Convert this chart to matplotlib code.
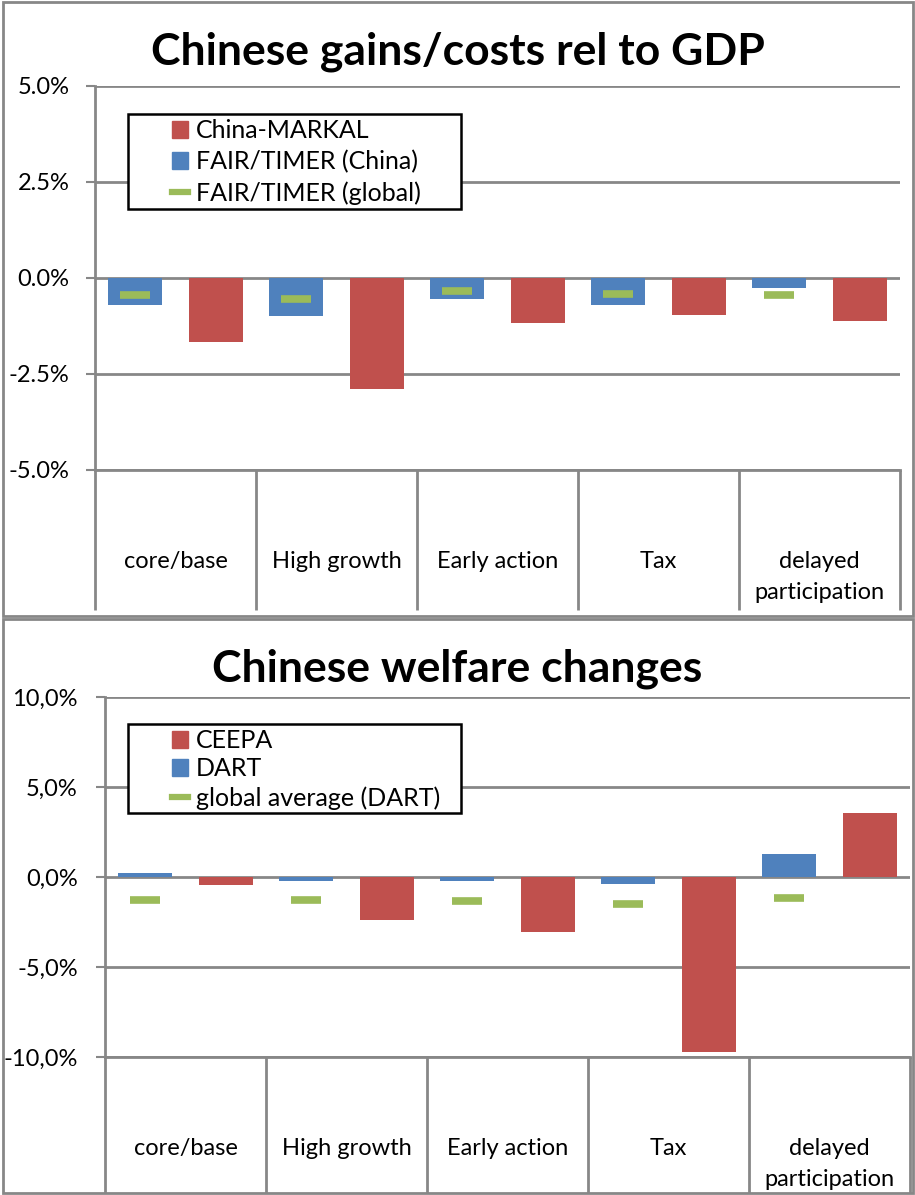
import matplotlib.pyplot as plt
from matplotlib.patches import Rectangle, Patch
from matplotlib.lines import Line2D
import numpy as np

plt.rcParams["font.family"] = ["Lato", "DejaVu Sans"]

# --- data ---
categories = ["core/base", "High growth", "Early action", "Tax", "delayed\nparticipation"]

# top panel: gains/costs relative to GDP (%)
markal = [-1.66, -2.88, -1.16, -0.97, -1.12]
fair_china = [-0.70, -1.00, -0.55, -0.71, -0.26]
fair_global = [-0.43, -0.55, -0.33, -0.42, -0.43]
top_ticks = [-5.0, -2.5, 0.0, 2.5, 5.0]
top_ticklabels = ["-5.0%", "-2.5%", "0.0%", "2.5%", "5.0%"]

# bottom panel: welfare changes (%)
ceepa = [-0.46, -2.41, -3.07, -9.74, 3.56]
dart = [0.24, -0.22, -0.22, -0.41, 1.28]
dart_global = [-1.26, -1.30, -1.32, -1.51, -1.19]
bot_ticks = [-10.0, -5.0, 0.0, 5.0, 10.0]
bot_ticklabels = ["-10,0%", "-5,0%", "0,0%", "5,0%", "10,0%"]

RED = "#C0504D"
BLUE = "#4F81BD"
GREEN = "#9BBB59"
GRID = "#878787"

W, H = 915, 1195
fig = plt.figure(figsize=(W / 100, H / 100), dpi=100)


def fbox(x0, y0, x1, y1):
    """pixel box (top-left origin) -> figure fraction [l, b, w, h]"""
    return [x0 / W, 1 - y1 / H, (x1 - x0) / W, (y1 - y0) / H]


def panel(frame, axbox, title, title_y, red, blue, green, names, ticks, ticklabels,
          sep_bottom, legbox, tickpad, legspacing):
    # chart area border
    l, b, w, h = fbox(*frame)
    fig.add_artist(Rectangle((l, b), w, h, transform=fig.transFigure,
                             fill=False, ec=GRID, lw=2))
    ax = fig.add_axes(fbox(*axbox))
    x = np.arange(len(categories))
    ax.bar(x - 0.25, blue, width=0.335, color=BLUE, zorder=3)
    ax.bar(x + 0.25, red, width=0.335, color=RED, zorder=3)
    ax.plot(x - 0.25, green, ls="none", marker="_", ms=21, mew=5.5,
            color=GREEN, zorder=4)

    ax.set_xlim(-0.5, len(categories) - 0.5)
    ax.set_ylim(ticks[0], ticks[-1])
    ax.set_yticks(ticks)
    ax.set_yticklabels(ticklabels, fontsize=17)
    ax.tick_params(axis="y", length=6.5, width=1.5, color=GRID, pad=tickpad)
    ax.yaxis.grid(True, color=GRID, lw=2)
    ax.set_axisbelow(True)
    for s in ["top", "right"]:
        ax.spines[s].set_visible(False)
    for s in ["left", "bottom"]:
        ax.spines[s].set_color(GRID)
        ax.spines[s].set_linewidth(2)

    ax.set_xticks(x)
    ax.set_xticklabels(categories, fontsize=17)
    ax.tick_params(axis="x", length=0, pad=58)
    for lbl in ax.get_xticklabels():
        lbl.set_linespacing(1.62)

    # category separators under the axis
    ax_h = axbox[3] - axbox[1]
    depth = -(sep_bottom - axbox[3]) / ax_h
    ax.vlines(np.arange(len(categories) + 1) - 0.5, depth, 0,
              transform=ax.get_xaxis_transform(), color=GRID, lw=2, clip_on=False)

    fig.text(0.5, 1 - title_y / H, title, ha="center", va="center",
             fontsize=32, fontweight="bold")

    # legend: white box with black frame
    lx0, ly0, lx1, ly1 = legbox
    l, b, w, h = fbox(*legbox)
    fig.add_artist(Rectangle((l, b), w, h, transform=fig.transFigure,
                             fc="white", ec="black", lw=1.8, zorder=5))
    handles = [Patch(color=RED), Patch(color=BLUE),
               Line2D([], [], color=GREEN, lw=4.5)]
    leg = fig.legend(handles, names, loc="upper left",
                     bbox_to_anchor=((lx0 + 44) / W, 1 - (ly0 + 5) / H),
                     frameon=False, fontsize=18, handlelength=0.65, handleheight=0.65,
                     handletextpad=0.3, labelspacing=legspacing, borderpad=0,
                     borderaxespad=0)
    leg.set_zorder(6)
    return ax


panel((3, 2, 913, 616), (95, 86, 900, 470), "Chinese gains/costs rel to GDP", 52,
      markal, fair_china, fair_global,
      ["China-MARKAL", "FAIR/TIMER (China)", "FAIR/TIMER (global)"],
      top_ticks, top_ticklabels, 610, (128, 114, 461, 209), 12, 0.32)

panel((3, 619, 913, 1193), (105, 697, 910, 1057), "Chinese welfare changes", 669,
      ceepa, dart, dart_global,
      ["CEEPA", "DART", "global average (DART)"],
      bot_ticks, bot_ticklabels, 1193, (128, 724, 461, 813), 13, 0.22)

fig.savefig("out.png", dpi=100)
